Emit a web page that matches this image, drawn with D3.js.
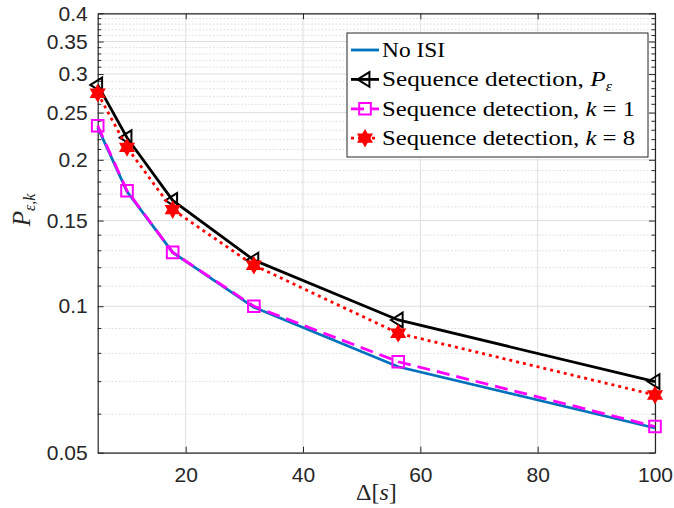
<!DOCTYPE html>
<html>
<head>
<meta charset="utf-8">
<script src="https://cdn.jsdelivr.net/npm/d3@7"></script>
<style>
  body { margin: 0; background: #fff; }
  svg { display: block; }
</style>
</head>
<body>
<div id="container"></div>
<script>
// data
const deltas = [5, 10, 17.78, 31.62, 56.23, 100];
const noISI = [0.233, 0.172, 0.129, 0.0995, 0.0751, 0.0562];
const seqP = [0.285, 0.222, 0.165, 0.1244, 0.0937, 0.07];
const seqK1 = [0.235, 0.1727, 0.129, 0.1, 0.0769, 0.0566];
const seqK8 = [0.274, 0.212, 0.158, 0.1214, 0.088, 0.0657];

const xTicks = [20, 40, 60, 80, 100];
const yTicks = [0.05, 0.1, 0.15, 0.2, 0.25, 0.3, 0.35, 0.4];
const yTickLabels = ["0.05", "0.1", "0.15", "0.2", "0.25", "0.3", "0.35", "0.4"];
const yMinor = d3.range(6, 40).filter((d) => d % 5 !== 0).map((d) => d / 100);

const width = 674;
const height = 508;
const plotLeft = 97.7, plotRight = 655, plotTop = 13.3, plotBottom = 452.7;

const svg = d3.select("#container").append("svg")
  .attr("width", width)
  .attr("height", height);

const xScale = d3.scaleLinear().domain([5, 100]).range([plotLeft, plotRight]);
const yScale = d3.scaleLog().domain([0.05, 0.4]).range([plotBottom, plotTop]);

const axisColor = "#262626";
const tickFont = "'Liberation Sans', Arial, sans-serif";
const serif = "'Liberation Serif', 'Times New Roman', serif";

// grid
const grid = svg.append("g");
grid.selectAll(".minor").data(yMinor).enter().append("line")
  .attr("x1", plotLeft).attr("x2", plotRight)
  .attr("y1", (d) => yScale(d)).attr("y2", (d) => yScale(d))
  .attr("stroke", "#d9d9d9").attr("stroke-width", 1)
  .attr("stroke-dasharray", "1.5,2");
grid.selectAll(".majorY").data(yTicks).enter().append("line")
  .attr("x1", plotLeft).attr("x2", plotRight)
  .attr("y1", (d) => yScale(d)).attr("y2", (d) => yScale(d))
  .attr("stroke", "#dedede").attr("stroke-width", 1);
grid.selectAll(".majorX").data(xTicks).enter().append("line")
  .attr("x1", (d) => xScale(d)).attr("x2", (d) => xScale(d))
  .attr("y1", plotTop).attr("y2", plotBottom)
  .attr("stroke", "#dedede").attr("stroke-width", 1);

// axes (ticks inward, box on)
const xAxis = d3.axisBottom(xScale).tickValues(xTicks).tickSizeInner(-6).tickSizeOuter(0).tickPadding(14);
const gx = svg.append("g").attr("transform", `translate(0,${plotBottom})`).call(xAxis);
const xTop = d3.axisTop(xScale).tickValues(xTicks).tickSizeInner(-6).tickSizeOuter(0).tickFormat("");
const gxt = svg.append("g").attr("transform", `translate(0,${plotTop})`).call(xTop);

const yAxis = d3.axisLeft(yScale).tickValues(yTicks)
  .tickFormat((d, i) => yTickLabels[i]).tickSizeInner(-6).tickSizeOuter(0).tickPadding(10);
const gy = svg.append("g").attr("transform", `translate(${plotLeft},0)`).call(yAxis);
const yRight = d3.axisRight(yScale).tickValues(yTicks).tickSizeInner(-6).tickSizeOuter(0).tickFormat("");
const gyr = svg.append("g").attr("transform", `translate(${plotRight},0)`).call(yRight);

// minor ticks on both sides
svg.append("g").selectAll("line").data(yMinor).enter().append("line")
  .attr("x1", plotLeft).attr("x2", plotLeft + 3.5)
  .attr("y1", (d) => yScale(d)).attr("y2", (d) => yScale(d))
  .attr("stroke", axisColor);
svg.append("g").selectAll("line").data(yMinor).enter().append("line")
  .attr("x1", plotRight).attr("x2", plotRight - 3.5)
  .attr("y1", (d) => yScale(d)).attr("y2", (d) => yScale(d))
  .attr("stroke", axisColor);

[gx, gxt, gy, gyr].forEach((g) => {
  g.selectAll("path").attr("stroke", axisColor).attr("stroke-width", 1.2);
  g.selectAll("line").attr("stroke", axisColor);
  g.selectAll("text").attr("fill", axisColor)
    .style("font-family", tickFont).style("font-size", "21px");
});

// hexagram symbol
const hexagram = {
  draw(ctx, size) {
    const r = Math.sqrt(size) * 0.75;
    const ri = r / Math.sqrt(3);
    for (let i = 0; i < 12; i++) {
      const a = -Math.PI / 2 + (i * Math.PI) / 6;
      const rr = i % 2 === 0 ? r : ri;
      if (i === 0) ctx.moveTo(rr * Math.cos(a), rr * Math.sin(a));
      else ctx.lineTo(rr * Math.cos(a), rr * Math.sin(a));
    }
    ctx.closePath();
  }
};
const triLeft = {
  draw(ctx, size) {
    const r = Math.sqrt(size) * 0.6;
    ctx.moveTo(-r, 0);
    ctx.lineTo(r * 0.6, -r);
    ctx.lineTo(r * 0.6, r);
    ctx.closePath();
  }
};

const series = [
  { name: "noisi", values: noISI, color: "#0072BD", dash: null, symbol: null, fill: "none" },
  { name: "seqp", values: seqP, color: "#000000", dash: null, symbol: triLeft, size: 150, fill: "none" },
  { name: "k1", values: seqK1, color: "#FF00FF", dash: "13,7", symbol: d3.symbolSquare, size: 135, fill: "none" },
  { name: "k8", values: seqK8, color: "#FF0000", dash: "3,4", symbol: hexagram, size: 95, fill: "#FF0000" }
];

const line = d3.line().x((d) => xScale(d[0])).y((d) => yScale(d[1]));
const plot = svg.append("g");

series.forEach((s) => {
  const pts = deltas.map((x, i) => [x, s.values[i]]);
  plot.append("path")
    .attr("d", line(pts))
    .attr("fill", "none")
    .attr("stroke", s.color)
    .attr("stroke-width", 2.8)
    .attr("stroke-dasharray", s.dash);
  if (s.symbol) {
    plot.selectAll(".m-" + s.name).data(pts).enter().append("path")
      .attr("transform", (d) => `translate(${xScale(d[0])},${yScale(d[1])})`)
      .attr("d", d3.symbol().type(s.symbol).size(s.size))
      .attr("fill", s.fill)
      .attr("stroke", s.color)
      .attr("stroke-width", 2);
  }
});

// legend
const legendLabels = [
  ["No ISI"],
  ["Sequence detection, ", "P", "ε"],
  ["Sequence detection, ", "k", " = 1"],
  ["Sequence detection, ", "k", " = 8"]
];
const legendLengths = [63, 230, 253, 253];
const legend = svg.append("g");
legend.append("rect")
  .attr("x", 347).attr("y", 33).attr("width", 301).attr("height", 124)
  .attr("fill", "#fff").attr("stroke", axisColor).attr("stroke-width", 1);

series.forEach((s, i) => {
  const y = 50 + i * 29.4;
  legend.append("line")
    .attr("x1", 351).attr("x2", 379).attr("y1", y).attr("y2", y)
    .attr("stroke", s.color).attr("stroke-width", 2.8)
    .attr("stroke-dasharray", s.dash);
  if (s.symbol) {
    legend.append("path")
      .attr("transform", `translate(365,${y})`)
      .attr("d", d3.symbol().type(s.symbol).size(s.size))
      .attr("fill", s.fill).attr("stroke", s.color).attr("stroke-width", 2);
  }
  const t = legend.append("text")
    .attr("x", 382).attr("y", y + 7)
    .attr("textLength", legendLengths[i])
    .attr("lengthAdjust", "spacingAndGlyphs")
    .style("font-family", serif).style("font-size", "22px")
    .attr("fill", "#000");
  const parts = legendLabels[i];
  t.append("tspan").text(parts[0]);
  if (i === 1) {
    t.append("tspan").style("font-style", "italic").text(parts[1]);
    t.append("tspan").style("font-style", "italic").style("font-size", "14px")
      .attr("dy", 5).text(parts[2]);
  } else if (i > 1) {
    t.append("tspan").style("font-style", "italic").text(parts[1]);
    t.append("tspan").text(parts[2]);
  }
});

// axis labels
const xl = svg.append("text")
  .attr("x", (plotLeft + plotRight) / 2).attr("y", 500)
  .attr("text-anchor", "middle")
  .style("font-family", serif).style("font-size", "24px")
  .attr("fill", axisColor);
xl.append("tspan").text("Δ[");
xl.append("tspan").style("font-style", "italic").text("s");
xl.append("tspan").text("]");

const yl = svg.append("text")
  .attr("transform", "translate(30,210) rotate(-90)")
  .attr("text-anchor", "middle")
  .style("font-family", serif).style("font-size", "25px")
  .attr("fill", axisColor);
yl.append("tspan").style("font-style", "italic").text("P");
yl.append("tspan").style("font-style", "italic").style("font-size", "16px")
  .attr("dy", 5).text("ε,k");
</script>
</body>
</html>
